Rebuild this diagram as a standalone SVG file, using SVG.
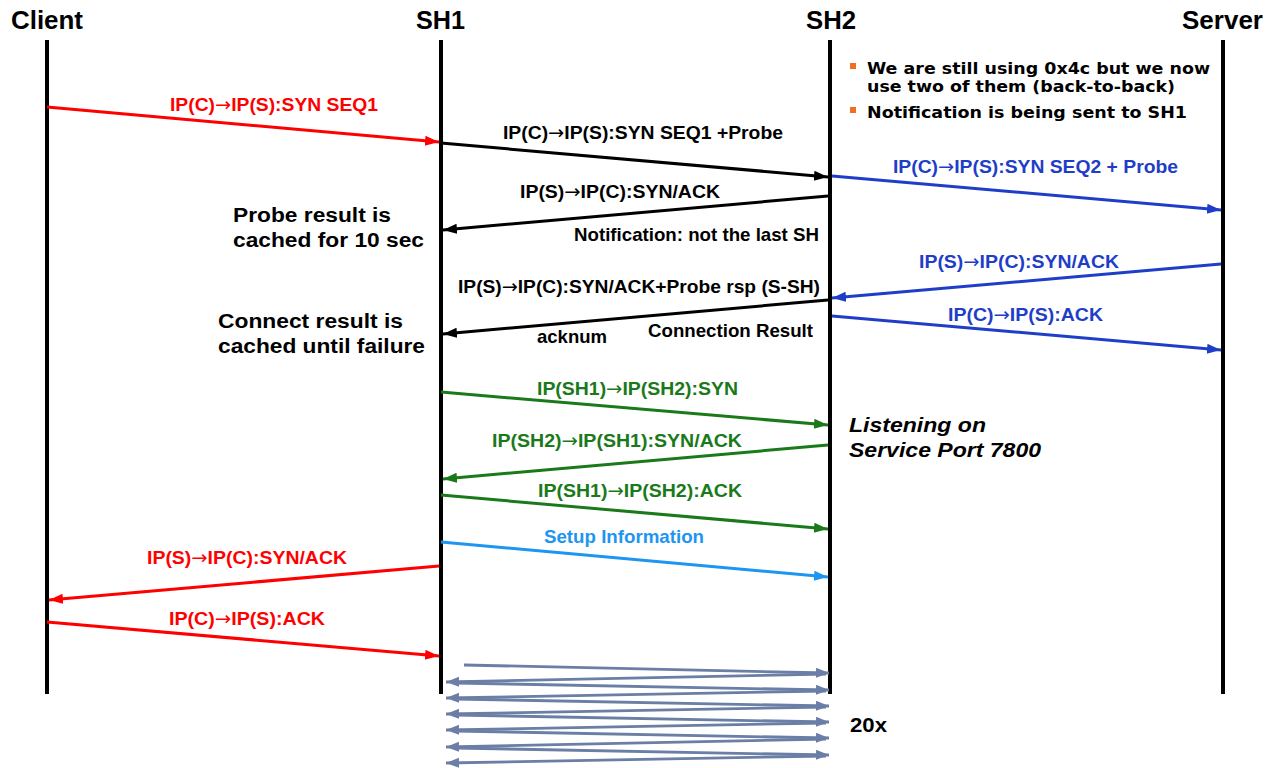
<svg xmlns="http://www.w3.org/2000/svg" width="1268" height="768" viewBox="0 0 1268 768">
<defs>
<style>
.hdr{font-family:"Liberation Sans",Arial,sans-serif;font-weight:bold;font-size:25px;fill:#000}
.lbl{font-family:"Liberation Sans",Arial,sans-serif;font-weight:bold;font-size:19px}
.ar{font-family:"DejaVu Sans",sans-serif;font-weight:normal}
.note{font-family:"Liberation Sans",Arial,sans-serif;font-weight:bold;font-size:20px;fill:#000}
.bul{font-family:"DejaVu Sans",Verdana,sans-serif;font-weight:bold;font-size:16px;fill:#000}
.ital{font-family:"Liberation Sans",Arial,sans-serif;font-weight:bold;font-style:italic;font-size:21px;fill:#000}
.life{stroke:#000;stroke-width:4}
.msg{fill:none;stroke-width:3}
.zz{fill:none;stroke:#6a7ea6;stroke-width:2.8}
</style>
<marker id="aRed" markerUnits="userSpaceOnUse" markerWidth="16" markerHeight="12" refX="14" refY="5" orient="auto"><path d="M0,0 L14,5 L0,10 Z" fill="#ff0000"/></marker>
<marker id="aBlk" markerUnits="userSpaceOnUse" markerWidth="16" markerHeight="12" refX="14" refY="5" orient="auto"><path d="M0,0 L14,5 L0,10 Z" fill="#000"/></marker>
<marker id="aBlu" markerUnits="userSpaceOnUse" markerWidth="16" markerHeight="12" refX="14" refY="5" orient="auto"><path d="M0,0 L14,5 L0,10 Z" fill="#1f3ec8"/></marker>
<marker id="aGrn" markerUnits="userSpaceOnUse" markerWidth="16" markerHeight="12" refX="14" refY="5" orient="auto"><path d="M0,0 L14,5 L0,10 Z" fill="#1a7a1a"/></marker>
<marker id="aLbl" markerUnits="userSpaceOnUse" markerWidth="16" markerHeight="12" refX="14" refY="5" orient="auto"><path d="M0,0 L14,5 L0,10 Z" fill="#1e95f0"/></marker>
<marker id="aZz" markerUnits="userSpaceOnUse" markerWidth="16" markerHeight="12" refX="13" refY="5" orient="auto"><path d="M0,0 L13,5 L0,10 Z" fill="#6a7ea6"/></marker>
</defs>
<rect width="1268" height="768" fill="#fff"/>

<g id="client"><text class="hdr" x="11" y="29" textLength="72" lengthAdjust="spacingAndGlyphs">Client</text><line class="life" x1="47" y1="40" x2="47" y2="694"/></g>
<g id="sh1"><text class="hdr" x="416" y="29" textLength="49" lengthAdjust="spacingAndGlyphs">SH1</text><line class="life" x1="441" y1="40" x2="441" y2="694"/></g>
<g id="sh2"><text class="hdr" x="806" y="29" textLength="50" lengthAdjust="spacingAndGlyphs">SH2</text><line class="life" x1="830" y1="40" x2="830" y2="694"/></g>
<g id="server"><text class="hdr" x="1182" y="29" textLength="81" lengthAdjust="spacingAndGlyphs">Server</text><line class="life" x1="1223" y1="40" x2="1223" y2="694"/></g>

<g id="connectors">
<line class="msg" stroke="#ff0000" x1="47" y1="107" x2="439" y2="142" marker-end="url(#aRed)"/>
<line class="msg" stroke="#000" x1="441" y1="143" x2="828" y2="177" marker-end="url(#aBlk)"/>
<line class="msg" stroke="#1f3ec8" x1="832" y1="176" x2="1221" y2="210" marker-end="url(#aBlu)"/>
<line class="msg" stroke="#000" x1="828" y1="196" x2="443" y2="230" marker-end="url(#aBlk)"/>
<line class="msg" stroke="#1f3ec8" x1="1221" y1="264" x2="832" y2="298" marker-end="url(#aBlu)"/>
<line class="msg" stroke="#000" x1="828" y1="300" x2="443" y2="334" marker-end="url(#aBlk)"/>
<line class="msg" stroke="#1f3ec8" x1="832" y1="316" x2="1221" y2="350" marker-end="url(#aBlu)"/>
<line class="msg" stroke="#1a7a1a" x1="441" y1="392" x2="828" y2="425" marker-end="url(#aGrn)"/>
<line class="msg" stroke="#1a7a1a" x1="828" y1="445" x2="443" y2="479" marker-end="url(#aGrn)"/>
<line class="msg" stroke="#1a7a1a" x1="441" y1="495" x2="828" y2="529" marker-end="url(#aGrn)"/>
<line class="msg" stroke="#1e95f0" x1="441" y1="542" x2="828" y2="577" marker-end="url(#aLbl)"/>
<line class="msg" stroke="#ff0000" x1="439" y1="566" x2="49" y2="600" marker-end="url(#aRed)"/>
<line class="msg" stroke="#ff0000" x1="47" y1="622" x2="439" y2="656" marker-end="url(#aRed)"/>

<g id="repeat">
<line class="zz" x1="464" y1="665" x2="829" y2="673" marker-end="url(#aZz)"/>
<line class="zz" x1="826" y1="674" x2="446" y2="682" marker-end="url(#aZz)"/>
<line class="zz" x1="456" y1="683" x2="829" y2="690" marker-end="url(#aZz)"/>
<line class="zz" x1="826" y1="691" x2="446" y2="698" marker-end="url(#aZz)"/>
<line class="zz" x1="456" y1="699" x2="829" y2="706" marker-end="url(#aZz)"/>
<line class="zz" x1="826" y1="707" x2="446" y2="714" marker-end="url(#aZz)"/>
<line class="zz" x1="456" y1="715" x2="829" y2="722" marker-end="url(#aZz)"/>
<line class="zz" x1="826" y1="723" x2="446" y2="730" marker-end="url(#aZz)"/>
<line class="zz" x1="456" y1="731" x2="829" y2="738" marker-end="url(#aZz)"/>
<line class="zz" x1="826" y1="739" x2="446" y2="747" marker-end="url(#aZz)"/>
<line class="zz" x1="456" y1="748" x2="829" y2="755" marker-end="url(#aZz)"/>
<line class="zz" x1="826" y1="756" x2="446" y2="763" marker-end="url(#aZz)"/>
</g>
</g>

<g id="labels">
<text class="lbl" fill="#ff0000" x="170" y="111" textLength="208" lengthAdjust="spacingAndGlyphs">IP(C)<tspan class="ar">→</tspan>IP(S):SYN SEQ1</text>
<text class="lbl" fill="#000" x="503" y="139" textLength="280" lengthAdjust="spacingAndGlyphs">IP(C)<tspan class="ar">→</tspan>IP(S):SYN SEQ1 +Probe</text>
<text class="lbl" fill="#1f3ec8" x="893" y="173" textLength="285" lengthAdjust="spacingAndGlyphs">IP(C)<tspan class="ar">→</tspan>IP(S):SYN SEQ2 + Probe</text>
<text class="lbl" fill="#000" x="520" y="198" textLength="200" lengthAdjust="spacingAndGlyphs">IP(S)<tspan class="ar">→</tspan>IP(C):SYN/ACK</text>
<text class="lbl" fill="#000" x="574" y="241" textLength="245" lengthAdjust="spacingAndGlyphs">Notification: not the last SH</text>
<text class="lbl" fill="#1f3ec8" x="919" y="268" textLength="200" lengthAdjust="spacingAndGlyphs">IP(S)<tspan class="ar">→</tspan>IP(C):SYN/ACK</text>
<text class="lbl" fill="#000" x="458" y="293" textLength="362" lengthAdjust="spacingAndGlyphs">IP(S)<tspan class="ar">→</tspan>IP(C):SYN/ACK+Probe rsp (S-SH)</text>
<text class="lbl" fill="#1f3ec8" x="948" y="321" textLength="155" lengthAdjust="spacingAndGlyphs">IP(C)<tspan class="ar">→</tspan>IP(S):ACK</text>
<text class="lbl" fill="#000" x="648" y="337" textLength="165" lengthAdjust="spacingAndGlyphs">Connection Result</text>
<text class="lbl" fill="#000" x="537" y="343" textLength="70" lengthAdjust="spacingAndGlyphs">acknum</text>
<text class="lbl" fill="#1a7a1a" x="537" y="395" textLength="201" lengthAdjust="spacingAndGlyphs">IP(SH1)<tspan class="ar">→</tspan>IP(SH2):SYN</text>
<text class="lbl" fill="#1a7a1a" x="492" y="447" textLength="250" lengthAdjust="spacingAndGlyphs">IP(SH2)<tspan class="ar">→</tspan>IP(SH1):SYN/ACK</text>
<text class="lbl" fill="#1a7a1a" x="538" y="497" textLength="204" lengthAdjust="spacingAndGlyphs">IP(SH1)<tspan class="ar">→</tspan>IP(SH2):ACK</text>
<text class="lbl" fill="#1e95f0" x="544" y="543" textLength="160" lengthAdjust="spacingAndGlyphs">Setup Information</text>
<text class="lbl" fill="#ff0000" x="147" y="564" textLength="200" lengthAdjust="spacingAndGlyphs">IP(S)<tspan class="ar">→</tspan>IP(C):SYN/ACK</text>
<text class="lbl" fill="#ff0000" x="169" y="625" textLength="156" lengthAdjust="spacingAndGlyphs">IP(C)<tspan class="ar">→</tspan>IP(S):ACK</text>
</g>

<g id="notes-left">
<text class="note" x="233" y="222" textLength="158" lengthAdjust="spacingAndGlyphs">Probe result is</text>
<text class="note" x="233" y="247" textLength="191" lengthAdjust="spacingAndGlyphs">cached for 10 sec</text>
<text class="note" x="218" y="328" textLength="185" lengthAdjust="spacingAndGlyphs">Connect result is</text>
<text class="note" x="218" y="353" textLength="207" lengthAdjust="spacingAndGlyphs">cached until failure</text>
</g>

<g id="notes-right">
<rect x="850" y="63" width="6" height="6" fill="#f07020"/>
<text class="bul" x="867" y="74" textLength="343" lengthAdjust="spacingAndGlyphs">We are still using 0x4c but we now</text>
<text class="bul" x="867" y="92" textLength="308" lengthAdjust="spacingAndGlyphs">use two of them (back-to-back)</text>
<rect x="850" y="107" width="6" height="6" fill="#f07020"/>
<text class="bul" x="867" y="118" textLength="320" lengthAdjust="spacingAndGlyphs">Notification is being sent to SH1</text>
</g>

<g id="listening">
<text class="ital" x="849" y="432" textLength="137" lengthAdjust="spacingAndGlyphs">Listening on</text>
<text class="ital" x="849" y="457" textLength="192" lengthAdjust="spacingAndGlyphs">Service Port 7800</text>
</g>

<g id="count"><text class="note" x="850" y="732" textLength="37" lengthAdjust="spacingAndGlyphs">20x</text></g>
</svg>
